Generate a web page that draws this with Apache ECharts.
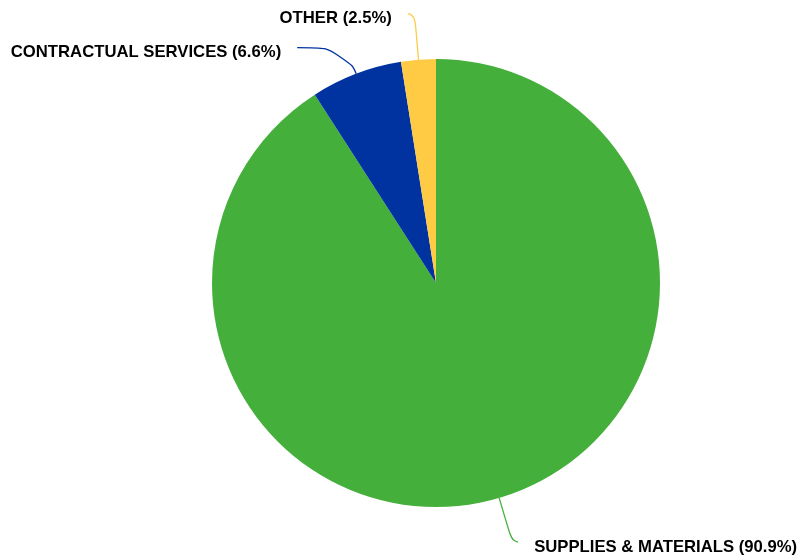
<!DOCTYPE html>
<html>
<head>
<meta charset="utf-8">
<script src="https://cdn.jsdelivr.net/npm/echarts@6/dist/echarts.min.js"></script>
<style>html,body{margin:0;padding:0;background:#fff}#c{width:800px;height:557px}</style>
</head>
<body>
<div id="c"></div>
<script>
const categories = ['SUPPLIES & MATERIALS', 'CONTRACTUAL SERVICES', 'OTHER'];
const values = [90.9, 6.6, 2.5];
const colors = ['#45af3c', '#0033a0', '#ffcb45'];
const lineLengths = [[46, 6], [28, 49], [46, 7]];

const chart = echarts.init(document.getElementById('c'), null, {renderer: 'canvas'});
chart.setOption({
  animation: false,
  series: [{
    type: 'pie',
    center: [436, 283],
    radius: 224,
    startAngle: 90,
    clockwise: true,
    avoidLabelOverlap: false,
    itemStyle: {borderWidth: 0},
    label: {
      show: true,
      formatter: p => '{s| }\n{t|' + p.name + ' (' + p.value.toFixed(1) + '%)}',
      rich: {
        s: {fontSize: 4, lineHeight: 10},
        t: {
          fontFamily: 'Liberation Sans, Arial, sans-serif',
          fontWeight: 'bold',
          fontSize: 16.7,
          lineHeight: 20,
          color: '#000'
        }
      },
      distanceToLabelLine: 16
    },
    labelLine: {show: true, smooth: 0.7, lineStyle: {width: 1.3}},
    emphasis: {disabled: true},
    data: categories.map((n, i) => ({
      name: n,
      value: values[i],
      itemStyle: {color: colors[i]},
      labelLine: {length: lineLengths[i][0], length2: lineLengths[i][1]}
    }))
  }]
});
</script>
</body>
</html>
